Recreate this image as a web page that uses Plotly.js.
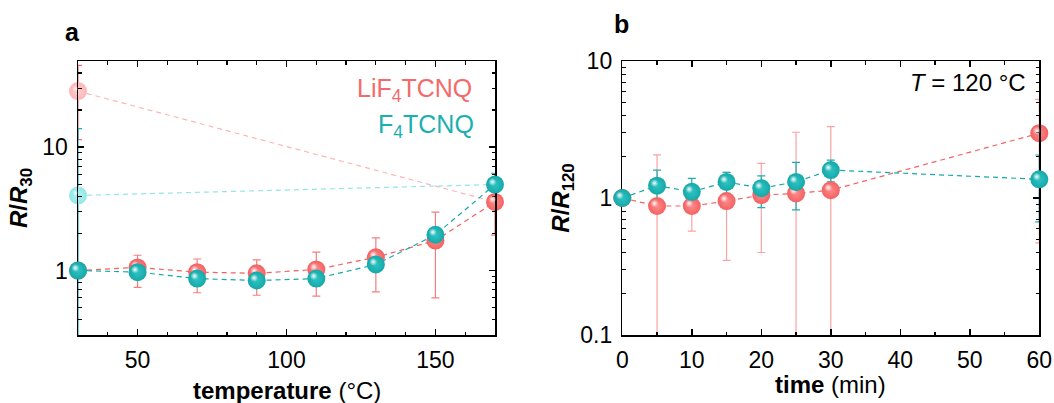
<!DOCTYPE html>
<html>
<head>
<meta charset="utf-8">
<script src="https://cdn.plot.ly/plotly-3.0.1.min.js"></script>
<style>html,body{margin:0;padding:0;background:#fff;}#chart{width:1054px;height:403px;}</style>
</head>
<body>
<div id="chart"></div>
<script>
// ---------- data: panel a (temperature) ----------
const tempC = [30, 50, 70, 90, 110, 130, 150, 170];
const liR30 = [1.00, 1.06, 0.97, 0.95, 1.02, 1.28, 1.75, 3.60];
const liR30ErrPlus = [0, 0.27, 0.27, 0.27, 0.39, 0.56, 1.22, 1.66];
const liR30ErrMinus = [0, 0.33, 0.31, 0.32, 0.40, 0.61, 1.15, 1.66];
const f4R30 = [1.00, 0.97, 0.86, 0.83, 0.86, 1.12, 1.95, 4.98];
const f4R30Err = [0, 0.06, 0.06, 0.06, 0.06, 0.08, 0.20, 1.17];
// faded reference points (first point raw, joined to last point)
const fadedTemp = [30, 170];
const liFaded = [28.5, 3.60];
const liFadedErrPlus = [17.5, 0];
const liFadedErrMinus = [17.0, 0];
const f4Faded = [4.06, 4.98];
const f4FadedErr = [10.1, 0];

// ---------- data: panel b (time at 120 °C) ----------
const timeMin = [0, 5, 10, 15, 20, 25, 30, 60];
const liR120 = [1.00, 0.874, 0.874, 0.95, 1.05, 1.08, 1.14, 2.97];
const liR120ErrPlus = [0, 1.19, 0.30, 0.59, 0.74, 1.94, 2.18, 2.28];
const liR120ErrMinus = [0, 1.19, 0.30, 0.60, 0.65, 1.94, 2.18, 2.50];
const f4R120 = [1.00, 1.23, 1.11, 1.31, 1.18, 1.31, 1.60, 1.37];
const f4R120ErrPlus = [0, 0.37, 0.28, 0.23, 0.27, 0.51, 0.29, 0.69];
const f4R120ErrMinus = [0, 0.42, 0.32, 0.23, 0.33, 0.49, 0.29, 0.70];

// ---------- ticks ----------
const aXTicks = [50, 100, 150];
const aYTicks = [1, 10];
const aYMinor = [0.3,0.4,0.5,0.6,0.7,0.8,0.9,2,3,4,5,6,7,8,9,20,30,40,50];
const bXTicks = [0, 10, 20, 30, 40, 50, 60];
const bYTicks = [0.1, 1, 10];
const bYMinor = [0.2,0.3,0.4,0.5,0.6,0.7,0.8,0.9,2,3,4,5,6,7,8,9];

// ---------- styling ----------
const W = 1054, H = 403;
const FONT = 'Liberation Sans, Arial, sans-serif';
const RED = '#F26262', RED_C = '#FF8A8A';
const TEAL = '#16A8A8', TEAL_C = '#2EC4C4';
const PINK = '#FDB6B6', PINK_C = '#FFCFCF';
const CYAN = '#92E6E6', CYAN_C = '#B4F2F2';
const px = x => x / W;
const py = y => 1 - y / H;

// plot area pixel boxes
const A = {l: 78, r: 495, t: 61, b: 335};
const B = {l: 622.3, r: 1039.3, t: 61, b: 335};
const SH = 2.6; // highlight shift (px)

function dom(box, dx, dy) {
  return {x: [px(box.l + dx), px(box.r + dx)], y: [py(box.b + dy), py(box.t + dy)]};
}

function mainAxis(extra) {
  return Object.assign({
    showline: true, linecolor: '#000', linewidth: 1.5, mirror: 'ticks',
    ticks: 'inside', ticklen: 6, tickwidth: 1.5, tickcolor: '#000',
    showgrid: false, zeroline: false,
    tickfont: {family: FONT, size: 23, color: '#000'},
    fixedrange: true
  }, extra);
}
function hiddenAxis(extra) {
  return Object.assign({visible: false, showgrid: false, zeroline: false, fixedrange: true}, extra);
}

const aXRange = [30, 170];
const aYRange = [Math.log10(0.3), Math.log10(50)];
const bXRange = [0, 60];
const bYRange = [-1, 1];

const dA = dom(A, 0, 0), dAh = dom(A, -SH, -SH);
const dB = dom(B, 0, 0), dBh = dom(B, -SH, -SH);

function lineTrace(x, y, plus, minus, col, barCol, xa, ya) {
  return {
    x: x, y: y, xaxis: xa, yaxis: ya, type: 'scatter', mode: 'lines',
    line: {color: col, width: 1.2, dash: '5px,4px'},
    error_y: {type: 'data', symmetric: false, array: plus, arrayminus: minus,
              color: barCol, thickness: 1.2, width: 4},
    cliponaxis: true, showlegend: false, hoverinfo: 'skip'
  };
}
function markerTrace(x, y, edge, center, xa, ya) {
  return {
    x: x, y: y, xaxis: xa, yaxis: ya, type: 'scatter', mode: 'markers',
    marker: {size: 18, color: edge, line: {width: 0},
             gradient: {type: 'radial', color: center}},
    cliponaxis: false, showlegend: false, hoverinfo: 'skip'
  };
}
function highlightTrace(x, y, xa, ya, alpha, size) {
  return {
    x: x, y: y, xaxis: xa, yaxis: ya, type: 'scatter', mode: 'markers',
    marker: {size: size, color: 'rgba(255,255,255,0)', line: {width: 0},
             gradient: {type: 'radial', color: 'rgba(255,255,255,' + alpha + ')'}},
    cliponaxis: false, showlegend: false, hoverinfo: 'skip'
  };
}

const data = [
  // panel a, layer A (x,y)
  lineTrace(fadedTemp, liFaded, liFadedErrPlus, liFadedErrMinus, PINK, '#F07070', 'x', 'y'),
  lineTrace(fadedTemp, f4Faded, f4FadedErr, f4FadedErr, CYAN, '#1DB0B0', 'x', 'y'),
  markerTrace(fadedTemp.slice(0,1), liFaded.slice(0,1), PINK, PINK_C, 'x', 'y'),
  markerTrace(fadedTemp.slice(0,1), f4Faded.slice(0,1), CYAN, CYAN_C, 'x', 'y'),
  lineTrace(tempC, liR30, liR30ErrPlus, liR30ErrMinus, RED, '#F47E7E', 'x', 'y'),
  lineTrace(tempC, f4R30, f4R30Err, f4R30Err, TEAL, '#19AFAF', 'x', 'y'),
  markerTrace(tempC, liR30, RED, RED_C, 'x', 'y'),
  // red highlights + faded highlights (x2,y2)
  highlightTrace(tempC, liR30, 'x2', 'y2', 0.95, 8),
  highlightTrace(fadedTemp.slice(0,1), liFaded.slice(0,1), 'x2', 'y2', 0.8, 6),
  highlightTrace(fadedTemp.slice(0,1), f4Faded.slice(0,1), 'x2', 'y2', 0.8, 6),
  // teal markers (x3,y3)
  markerTrace(tempC, f4R30, TEAL, TEAL_C, 'x3', 'y3'),
  // teal highlights (x4,y4)
  highlightTrace(tempC, f4R30, 'x4', 'y4', 0.95, 8),

  // panel b
  lineTrace(timeMin, liR120, liR120ErrPlus, liR120ErrMinus, RED, '#F9A3A3', 'x5', 'y5'),
  lineTrace(timeMin, f4R120, f4R120ErrPlus, f4R120ErrMinus, TEAL, '#1DAFAF', 'x5', 'y5'),
  markerTrace(timeMin, liR120, RED, RED_C, 'x5', 'y5'),
  highlightTrace(timeMin, liR120, 'x6', 'y6', 0.95, 8),
  markerTrace(timeMin, f4R120, TEAL, TEAL_C, 'x7', 'y7'),
  highlightTrace(timeMin, f4R120, 'x8', 'y8', 0.95, 8)
];

const minorX = d => ({ticks: 'inside', ticklen: 3.5, tickwidth: 1.2, tickcolor: '#000', dtick: d, tick0: 0, showgrid: false});
const minorY = v => ({ticks: 'inside', ticklen: 3.5, tickwidth: 1.2, tickcolor: '#000', tickmode: 'array', tickvals: v, showgrid: false});
const titleFont = {family: FONT, size: 24, color: '#000'};

const layout = {
  width: W, height: H,
  margin: {l: 0, r: 0, t: 0, b: 0, pad: 0},
  paper_bgcolor: '#fff', plot_bgcolor: 'rgba(0,0,0,0)',
  font: {family: FONT, color: '#000'},
  showlegend: false,
  xaxis: mainAxis({domain: dA.x, anchor: 'y', range: aXRange, tickmode: 'array', tickvals: aXTicks,
    minor: minorX(10), ticklabelstandoff: 4}),
  yaxis: mainAxis({domain: dA.y, anchor: 'x', type: 'log', range: aYRange, tickmode: 'array', tickvals: aYTicks,
    minor: minorY(aYMinor), ticklabelstandoff: 4,
    title: {text: '<b><i>R</i>/<i>R</i><sub>30</sub></b>', font: titleFont, standoff: 8}}),
  xaxis2: hiddenAxis({domain: dAh.x, anchor: 'y2', range: aXRange}),
  yaxis2: hiddenAxis({domain: dAh.y, anchor: 'x2', type: 'log', range: aYRange}),
  xaxis3: hiddenAxis({domain: dA.x, anchor: 'y3', range: aXRange}),
  yaxis3: hiddenAxis({domain: dA.y, anchor: 'x3', type: 'log', range: aYRange}),
  xaxis4: hiddenAxis({domain: dAh.x, anchor: 'y4', range: aXRange}),
  yaxis4: hiddenAxis({domain: dAh.y, anchor: 'x4', type: 'log', range: aYRange}),

  xaxis5: mainAxis({domain: dB.x, anchor: 'y5', range: bXRange, tickmode: 'array', tickvals: bXTicks,
    minor: minorX(5), ticklabelstandoff: 4}),
  yaxis5: mainAxis({domain: dB.y, anchor: 'x5', type: 'log', range: bYRange, tickmode: 'array', tickvals: bYTicks,
    minor: minorY(bYMinor), ticklabelstandoff: 4,
    title: {text: '<b><i>R</i>/<i>R</i><sub>120</sub></b>', font: titleFont, standoff: 4}}),
  xaxis6: hiddenAxis({domain: dBh.x, anchor: 'y6', range: bXRange}),
  yaxis6: hiddenAxis({domain: dBh.y, anchor: 'x6', type: 'log', range: bYRange}),
  xaxis7: hiddenAxis({domain: dB.x, anchor: 'y7', range: bXRange}),
  yaxis7: hiddenAxis({domain: dB.y, anchor: 'x7', type: 'log', range: bYRange}),
  xaxis8: hiddenAxis({domain: dBh.x, anchor: 'y8', range: bXRange}),
  yaxis8: hiddenAxis({domain: dBh.y, anchor: 'x8', type: 'log', range: bYRange}),

  annotations: [
    {text: '<b>temperature</b> (°C)', xref: 'paper', yref: 'paper', x: px((A.l + A.r) / 2), y: py(390),
     xanchor: 'center', yanchor: 'middle', showarrow: false, font: titleFont},
    {text: '<b>time</b> (min)', xref: 'paper', yref: 'paper', x: px((B.l + B.r) / 2), y: py(384),
     xanchor: 'center', yanchor: 'middle', showarrow: false, font: titleFont},
    {text: '<b>a</b>', xref: 'paper', yref: 'paper', x: px(72), y: py(32), xanchor: 'center', yanchor: 'middle',
     showarrow: false, font: {family: FONT, size: 25, color: '#000'}},
    {text: '<b>b</b>', xref: 'paper', yref: 'paper', x: px(621), y: py(24), xanchor: 'center', yanchor: 'middle',
     showarrow: false, font: {family: FONT, size: 25, color: '#000'}},
    {text: 'LiF<sub>4</sub>TCNQ', xref: 'paper', yref: 'paper', x: px(474), y: py(90), xanchor: 'right', yanchor: 'middle',
     showarrow: false, font: {family: FONT, size: 25, color: '#F46A6A'}},
    {text: 'F<sub>4</sub>TCNQ', xref: 'paper', yref: 'paper', x: px(476), y: py(126), xanchor: 'right', yanchor: 'middle',
     showarrow: false, font: {family: FONT, size: 25, color: '#1AB0B0'}},
    {text: '<i>T</i> = 120 °C', xref: 'paper', yref: 'paper', x: px(1028), y: py(82), xanchor: 'right', yanchor: 'middle',
     showarrow: false, font: {family: FONT, size: 24, color: '#000'}}
  ]
};

Plotly.newPlot('chart', data, layout, {staticPlot: true, displayModeBar: false});
</script>
</body>
</html>
